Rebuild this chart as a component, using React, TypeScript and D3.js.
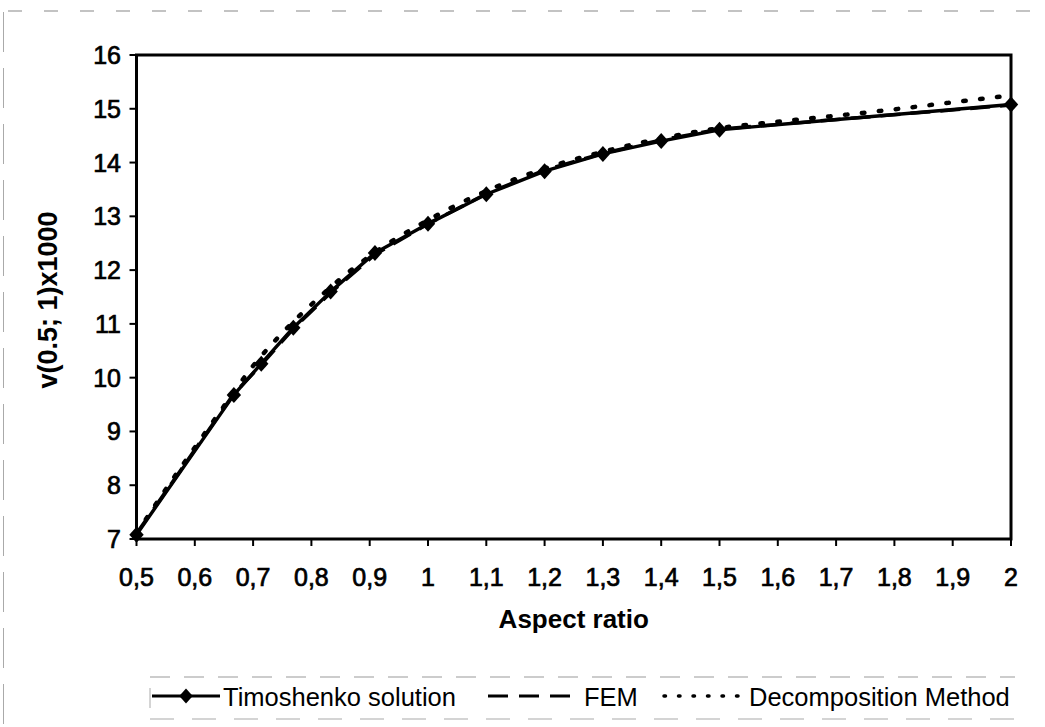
import React from "react";
import * as d3 from "d3";

// ---- Data ----
const timoX = [0.5, 0.667, 0.714, 0.769, 0.833, 0.909, 1.0, 1.1, 1.2, 1.3, 1.4, 1.5, 2.0];
const timoY = [7.08, 9.68, 10.26, 10.93, 11.6, 12.32, 12.86, 13.41, 13.84, 14.16, 14.4, 14.61, 15.08];

const femX = [0.5, 0.667, 0.714, 0.769, 0.833, 0.909, 1.0, 1.1, 1.2, 1.3, 1.4, 1.5, 2.0];
const femY = [7.1, 9.7, 10.24, 10.91, 11.58, 12.29, 12.86, 13.42, 13.86, 14.17, 14.42, 14.62, 15.07];

const decoX = [0.5, 0.55, 0.6, 0.65, 0.7, 0.75, 0.8, 0.85, 0.9, 1.0, 1.1, 1.2, 1.3, 1.4, 1.5, 1.6, 1.7, 1.8, 1.9, 2.0];
const decoY = [7.1, 7.92, 8.7, 9.47, 10.22, 10.83, 11.36, 11.84, 12.26, 12.93, 13.47, 13.89, 14.2, 14.45, 14.64, 14.76, 14.87, 14.99, 15.12, 15.25];

const xTicks = [0.5, 0.6, 0.7, 0.8, 0.9, 1.0, 1.1, 1.2, 1.3, 1.4, 1.5, 1.6, 1.7, 1.8, 1.9, 2.0];
const yTicks = [7, 8, 9, 10, 11, 12, 13, 14, 15, 16];

const seriesNames = ["Timoshenko solution", "FEM", "Decomposition Method"];
const xTitle = "Aspect ratio";
const yTitle = "v(0.5; 1)x1000";

const FONT = "'Liberation Sans', Arial, Helvetica, sans-serif";

export default function App() {
  const W = 1045, H = 727;
  const left = 136.5, right = 1011, top = 55, bottom = 539;
  const x = d3.scaleLinear().domain([0.5, 2]).range([left, right]);
  const y = d3.scaleLinear().domain([7, 16]).range([bottom, top]);
  const line = d3.line<[number, number]>().x(d => x(d[0])).y(d => y(d[1]));
  const smooth = d3.line<[number, number]>().x(d => x(d[0])).y(d => y(d[1])).curve(d3.curveMonotoneX);

  const timo: [number, number][] = timoX.map((v, i) => [v, timoY[i]]);
  const fem: [number, number][] = femX.map((v, i) => [v, femY[i]]);
  const deco: [number, number][] = decoX.map((v, i) => [v, decoY[i]]);

  const fmt = (v: number) => {
    const r = Math.round(v * 10) / 10;
    return String(r).replace(".", ",");
  };

  const diamond = (cx: number, cy: number, r = 8) =>
    `M${cx},${cy - r}L${cx + r * 0.9},${cy}L${cx},${cy + r}L${cx - r * 0.9},${cy}Z`;

  const legY = 696;

  return (
    <svg width={W} height={H} style={{ position: "absolute", left: 0, top: 0, background: "#fff" }} fontFamily={FONT}>
      <rect x={0} y={0} width={W} height={H} fill="#fff" />
      {/* scan frame artifacts */}
      <line x1={8} x2={1040} y1={11} y2={11} stroke="#888" strokeWidth={1.2} strokeDasharray="14 22" />
      <line x1={3.5} x2={3.5} y1={12} y2={727} stroke="#aaa" strokeWidth={1} strokeDasharray="40 16" />
      <line x1={150} x2={1015} y1={677} y2={677} stroke="#999" strokeWidth={1.2} strokeDasharray="20 14" />
      <line x1={150} x2={1015} y1={719} y2={719} stroke="#aaa" strokeWidth={1.2} strokeDasharray="24 18" />
      <line x1={150} x2={150} y1={688} y2={708} stroke="#aaa" strokeWidth={1} />

      {/* series */}
      <path d={smooth(deco) || ""} fill="none" stroke="#000" strokeWidth={4.5} strokeDasharray="2.5 14.5" strokeLinecap="round" />
      <path d={line(fem) || ""} fill="none" stroke="#000" strokeWidth={3.5} strokeDasharray="20 10" />
      <path d={line(timo) || ""} fill="none" stroke="#000" strokeWidth={3.4} strokeLinejoin="round" />
      {timo.map((d, i) => (
        <path key={i} d={diamond(x(d[0]), y(d[1]))} fill="#000" />
      ))}

      {/* frame */}
      <rect x={left} y={top} width={right - left} height={bottom - top} fill="none" stroke="#000" strokeWidth={3} />

      {/* y axis */}
      {yTicks.map(t => (
        <g key={t}>
          <line x1={left - 7} x2={left} y1={y(t)} y2={y(t)} stroke="#000" strokeWidth={2} />
          <text x={121} y={y(t) + 9} textAnchor="end" fontSize={25} fill="#000" stroke="#000" strokeWidth={0.7}>
            {t}
          </text>
        </g>
      ))}
      {/* x axis */}
      {xTicks.map(t => (
        <g key={t}>
          <line x1={x(t)} x2={x(t)} y1={bottom} y2={bottom + 7} stroke="#000" strokeWidth={2} />
          <text x={x(t)} y={586} textAnchor="middle" fontSize={25} fill="#000" stroke="#000" strokeWidth={0.7}>
            {fmt(t)}
          </text>
        </g>
      ))}

      <text x={(left + right) / 2} y={628} textAnchor="middle" fontSize={26} fontWeight="bold" fill="#000">
        {xTitle}
      </text>
      <text transform={`translate(57,${(top + bottom) / 2 + 3}) rotate(-90)`} textAnchor="middle" fontSize={27} fontWeight="bold" fill="#000">
        {yTitle}
      </text>

      {/* legend */}
      <line x1={152} x2={220} y1={legY} y2={legY} stroke="#000" strokeWidth={3} />
      <path d={diamond(186, legY, 7.5)} fill="#000" />
      <text x={223} y={legY + 9.5} fontSize={25.5} fill="#000">{seriesNames[0]}</text>
      <line x1={488} x2={576} y1={legY} y2={legY} stroke="#000" strokeWidth={3} strokeDasharray="20 11" />
      <text x={584} y={legY + 9.5} fontSize={25.5} fill="#000">{seriesNames[1]}</text>
      <line x1={664} x2={742} y1={legY} y2={legY} stroke="#000" strokeWidth={3.5} strokeDasharray="1.5 13" strokeLinecap="round" />
      <text x={749} y={legY + 9.5} fontSize={25.5} fill="#000">{seriesNames[2]}</text>
    </svg>
  );
}
